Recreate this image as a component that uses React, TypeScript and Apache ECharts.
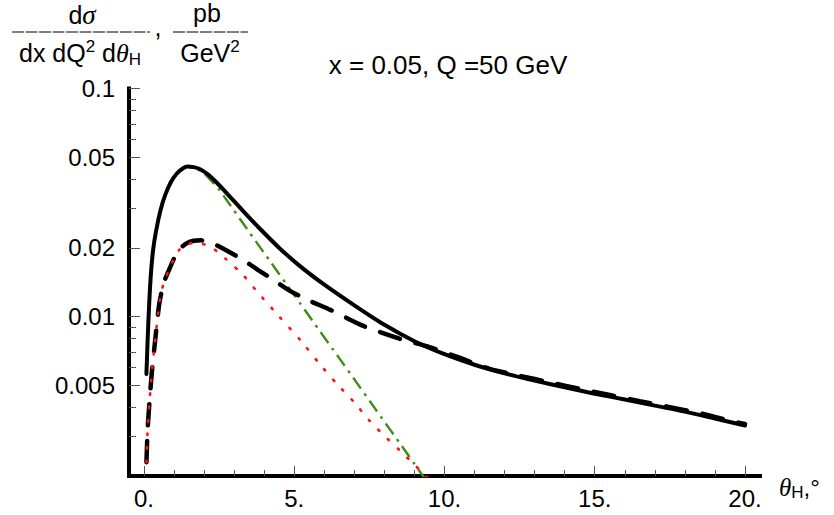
import React, { useEffect, useRef } from 'react';
import * as echarts from 'echarts';

// ---- axis ticks / labels ----
const xMajorTicks = [0, 5, 10, 15, 20];
const xMinorTicks = [1, 2, 3, 4, 6, 7, 8, 9, 11, 12, 13, 14, 16, 17, 18, 19];
const yMajorTicks = [0.1, 0.05, 0.02, 0.01, 0.005];
const yMajorLabels = ['0.1', '0.05', '0.02', '0.01', '0.005'];
const yMinorTicks = [0.09, 0.08, 0.07, 0.06, 0.04, 0.03, 0.009, 0.008, 0.007, 0.006, 0.004, 0.003];
const xRange = [-0.5, 20.5];
const yRange = [0.002, 0.1];

// ---- series data (theta_H in degrees, cross section in pb/GeV^2) ----
const solidX = [0.08, 0.14, 0.22, 0.3, 0.4, 0.55, 0.7, 0.9, 1.1, 1.3, 1.45, 1.65, 1.85, 2.1, 2.4, 2.8, 3.3, 3.8, 4.5, 5.2, 6.0, 7.0, 8.0, 9.0, 10.0, 11.0, 12.0, 13.0, 14.0, 15.0, 16.0, 17.0, 18.0, 19.0, 20.0];
const solidY = [0.0056, 0.0092, 0.0148, 0.0195, 0.0237, 0.0293, 0.034, 0.039, 0.0425, 0.0447, 0.0455, 0.0452, 0.0444, 0.0423, 0.0389, 0.0342, 0.029, 0.0247, 0.02, 0.0166, 0.0138, 0.0112, 0.0092, 0.0078, 0.00684, 0.00615, 0.00564, 0.00524, 0.0049, 0.00459, 0.00433, 0.00407, 0.00383, 0.00357, 0.00333];

const dashedX = [0.08, 0.12, 0.18, 0.26, 0.34, 0.5, 0.65, 0.84, 1.0, 1.17, 1.4, 1.65, 1.9, 2.2, 2.5, 2.9, 3.3, 3.8, 4.3, 4.8, 5.4, 6.2, 7.3, 8.5, 9.5, 10.5, 11.5, 12.5, 13.5, 14.5, 15.5, 16.5, 17.5, 18.5, 19.5, 20.0];
const dashedY = [0.0023, 0.0032, 0.0042, 0.0057, 0.0072, 0.0112, 0.014, 0.0161, 0.018, 0.0197, 0.0209, 0.0215, 0.0216, 0.0212, 0.0203, 0.019, 0.0177, 0.016, 0.0145, 0.0131, 0.0119, 0.0107, 0.0091, 0.008, 0.00735, 0.0066, 0.0059, 0.0055, 0.00515, 0.00482, 0.00453, 0.00426, 0.00401, 0.00377, 0.00349, 0.00338];

const greenX = [1.2, 1.45, 1.7, 2.0, 2.5, 3.0, 3.6, 4.2, 4.7, 5.2, 5.8, 6.3, 6.8, 7.4, 7.9, 8.5, 9.0, 9.45];
const greenY = [0.0436, 0.0454, 0.0448, 0.0424, 0.036, 0.0291, 0.0225, 0.01745, 0.0141, 0.0114, 0.00883, 0.00714, 0.00578, 0.00447, 0.00361, 0.0028, 0.00226, 0.00186];

const redX = [0.08, 0.12, 0.18, 0.26, 0.34, 0.5, 0.65, 0.84, 1.0, 1.17, 1.4, 1.7, 2.2, 2.7, 3.3, 3.8, 4.5, 5.2, 5.8, 6.4, 7.0, 7.5, 8.0, 8.5, 9.0, 9.45];
const redY = [0.0023, 0.0032, 0.0042, 0.0057, 0.0072, 0.0112, 0.014, 0.0161, 0.018, 0.0196, 0.0207, 0.0211, 0.0203, 0.018, 0.0152, 0.0127, 0.01, 0.0079, 0.0063, 0.0051, 0.0042, 0.0035, 0.003, 0.0026, 0.00224, 0.00196];

const SANS = '"Liberation Sans", Arial, Helvetica, sans-serif';
const SERIF = '"Liberation Serif", "Times New Roman", serif';

const toPairs = (xs: number[], ys: number[]) => xs.map((x, i) => [x, Math.log10(ys[i])]);

export default function App() {
  const ref = useRef<HTMLDivElement>(null);

  useEffect(() => {
    if (!ref.current) return;
    const chart = echarts.init(ref.current, null, { renderer: 'svg' });
    const yMin = Math.log10(yRange[0]);
    const yMax = Math.log10(yRange[1]);

    const xAxisBase = {
      type: 'value',
      min: xRange[0],
      max: xRange[1],
      position: 'bottom',
      splitLine: { show: false },
    };
    const yAxisBase = {
      type: 'value',
      min: yMin,
      max: yMax,
      position: 'left',
      splitLine: { show: false },
    };

    const option: any = {
      animation: false,
      grid: { left: 129, top: 88.5, right: 74, bottom: 39, containLabel: false },
      xAxis: [
        {
          ...xAxisBase,
          axisLine: { show: true, onZero: false, lineStyle: { color: '#000', width: 4, cap: 'square' } },
          axisTick: { show: true, inside: true, length: 10, customValues: xMajorTicks, lineStyle: { color: '#555', width: 1 } },
          axisLabel: {
            show: true,
            customValues: xMajorTicks,
            margin: 10,
            color: '#000',
            fontSize: 24,
            fontFamily: SANS,
            formatter: (v: number) => `${v}.`,
          },
        },
        {
          ...xAxisBase,
          axisLine: { show: false, onZero: false },
          axisTick: { show: true, inside: true, length: 6, customValues: xMinorTicks, lineStyle: { color: '#555', width: 1 } },
          axisLabel: { show: false },
        },
      ],
      yAxis: [
        {
          ...yAxisBase,
          axisLine: { show: true, onZero: false, lineStyle: { color: '#000', width: 4, cap: 'square' } },
          axisTick: { show: true, inside: true, length: 11, customValues: yMajorTicks.map((t) => Math.log10(t)), lineStyle: { color: '#555', width: 1 } },
          axisLabel: {
            show: true,
            customValues: yMajorTicks.map((t) => Math.log10(t)),
            margin: 14,
            color: '#000',
            fontSize: 24,
            fontFamily: SANS,
            formatter: (v: number) => {
              const i = yMajorTicks.findIndex((t) => Math.abs(Math.log10(t) - v) < 1e-6);
              return i >= 0 ? yMajorLabels[i] : '';
            },
          },
        },
        {
          ...yAxisBase,
          axisLine: { show: false, onZero: false },
          axisTick: { show: true, inside: true, length: 7, customValues: yMinorTicks.map((t) => Math.log10(t)), lineStyle: { color: '#555', width: 1 } },
          axisLabel: { show: false },
        },
      ],
      series: [
        {
          type: 'line',
          data: toPairs(greenX, greenY),
          showSymbol: false,
          smooth: 0.2,
          z: 2,
          lineStyle: { color: '#3f8c14', width: 2.4, type: [13, 6, 3, 6], cap: 'butt' },
        },
        {
          type: 'line',
          data: toPairs(solidX, solidY),
          showSymbol: false,
          smooth: 0.25,
          z: 3,
          lineStyle: { color: '#000', width: 4, type: 'solid', cap: 'round', join: 'round' },
        },
        {
          type: 'line',
          data: toPairs(dashedX, dashedY),
          showSymbol: false,
          smooth: 0.2,
          z: 4,
          lineStyle: { color: '#000', width: 4.5, type: [21, 16], cap: 'round' },
        },
        {
          type: 'line',
          data: toPairs(redX, redY),
          showSymbol: false,
          smooth: 0.2,
          z: 5,
          lineStyle: { color: '#ff1414', width: 2.6, type: [1.5, 12], cap: 'round' },
        },
      ],
      graphic: [
        {
          type: 'text',
          x: 82,
          y: 15,
          style: {
            text: '{n|d}{it|σ}',
            align: 'center',
            verticalAlign: 'middle',
            rich: {
              n: { fontSize: 25, fontFamily: SANS, lineHeight: 30, fill: '#000' },
              it: { fontSize: 27, fontFamily: SERIF, fontStyle: 'italic', lineHeight: 30, fill: '#000' },
            },
          },
        },
        {
          type: 'line',
          shape: { x1: 12, y1: 32, x2: 150, y2: 32 },
          style: { stroke: '#000', lineWidth: 1, lineDash: [12, 1.5] },
        },
        {
          type: 'text',
          x: 80,
          y: 53,
          style: {
            text: '{n|dx dQ}{sup|2}{n| d}{it|θ}{sub|H}',
            align: 'center',
            verticalAlign: 'middle',
            rich: {
              n: { fontSize: 25, fontFamily: SANS, lineHeight: 30, fill: '#000' },
              sup: { fontSize: 17, fontFamily: SANS, lineHeight: 17, verticalAlign: 'top', fill: '#000' },
              it: { fontSize: 26, fontFamily: SERIF, fontStyle: 'italic', lineHeight: 30, fill: '#000' },
              sub: { fontSize: 17, fontFamily: SANS, lineHeight: 17, verticalAlign: 'bottom', fill: '#000' },
            },
          },
        },
        {
          type: 'text',
          x: 158,
          y: 27,
          style: { text: ',', fontSize: 25, fontFamily: SANS, fill: '#000', align: 'center', verticalAlign: 'middle' },
        },
        {
          type: 'text',
          x: 207,
          y: 13,
          style: { text: 'pb', fontSize: 25, fontFamily: SANS, fill: '#000', align: 'center', verticalAlign: 'middle' },
        },
        {
          type: 'line',
          shape: { x1: 173, y1: 32, x2: 248, y2: 32 },
          style: { stroke: '#000', lineWidth: 1, lineDash: [12, 1.5] },
        },
        {
          type: 'text',
          x: 210,
          y: 53,
          style: {
            text: '{n|GeV}{sup|2}',
            align: 'center',
            verticalAlign: 'middle',
            rich: {
              n: { fontSize: 25, fontFamily: SANS, lineHeight: 30, fill: '#000' },
              sup: { fontSize: 17, fontFamily: SANS, lineHeight: 17, verticalAlign: 'top', fill: '#000' },
            },
          },
        },
        {
          type: 'text',
          x: 448,
          y: 65,
          style: { text: 'x = 0.05, Q =50 GeV', fontSize: 26, fontFamily: SANS, fill: '#000', align: 'center', verticalAlign: 'middle' },
        },
        {
          type: 'text',
          x: 779,
          y: 487,
          style: {
            text: '{t|θ}{s|H}{n|,°}',
            align: 'left',
            verticalAlign: 'middle',
            rich: {
              t: { fontSize: 25, fontFamily: SERIF, fontStyle: 'italic', lineHeight: 28, fill: '#000' },
              s: { fontSize: 17, fontFamily: SANS, lineHeight: 17, verticalAlign: 'bottom', fill: '#000' },
              n: { fontSize: 24, fontFamily: SANS, lineHeight: 28, fill: '#000' },
            },
          },
        },
      ],
    };

    chart.setOption(option);
    return () => chart.dispose();
  }, []);

  return (
    <div
      ref={ref}
      style={{ position: 'absolute', left: 0, top: 0, width: 834, height: 515, background: '#fff' }}
    />
  );
}
